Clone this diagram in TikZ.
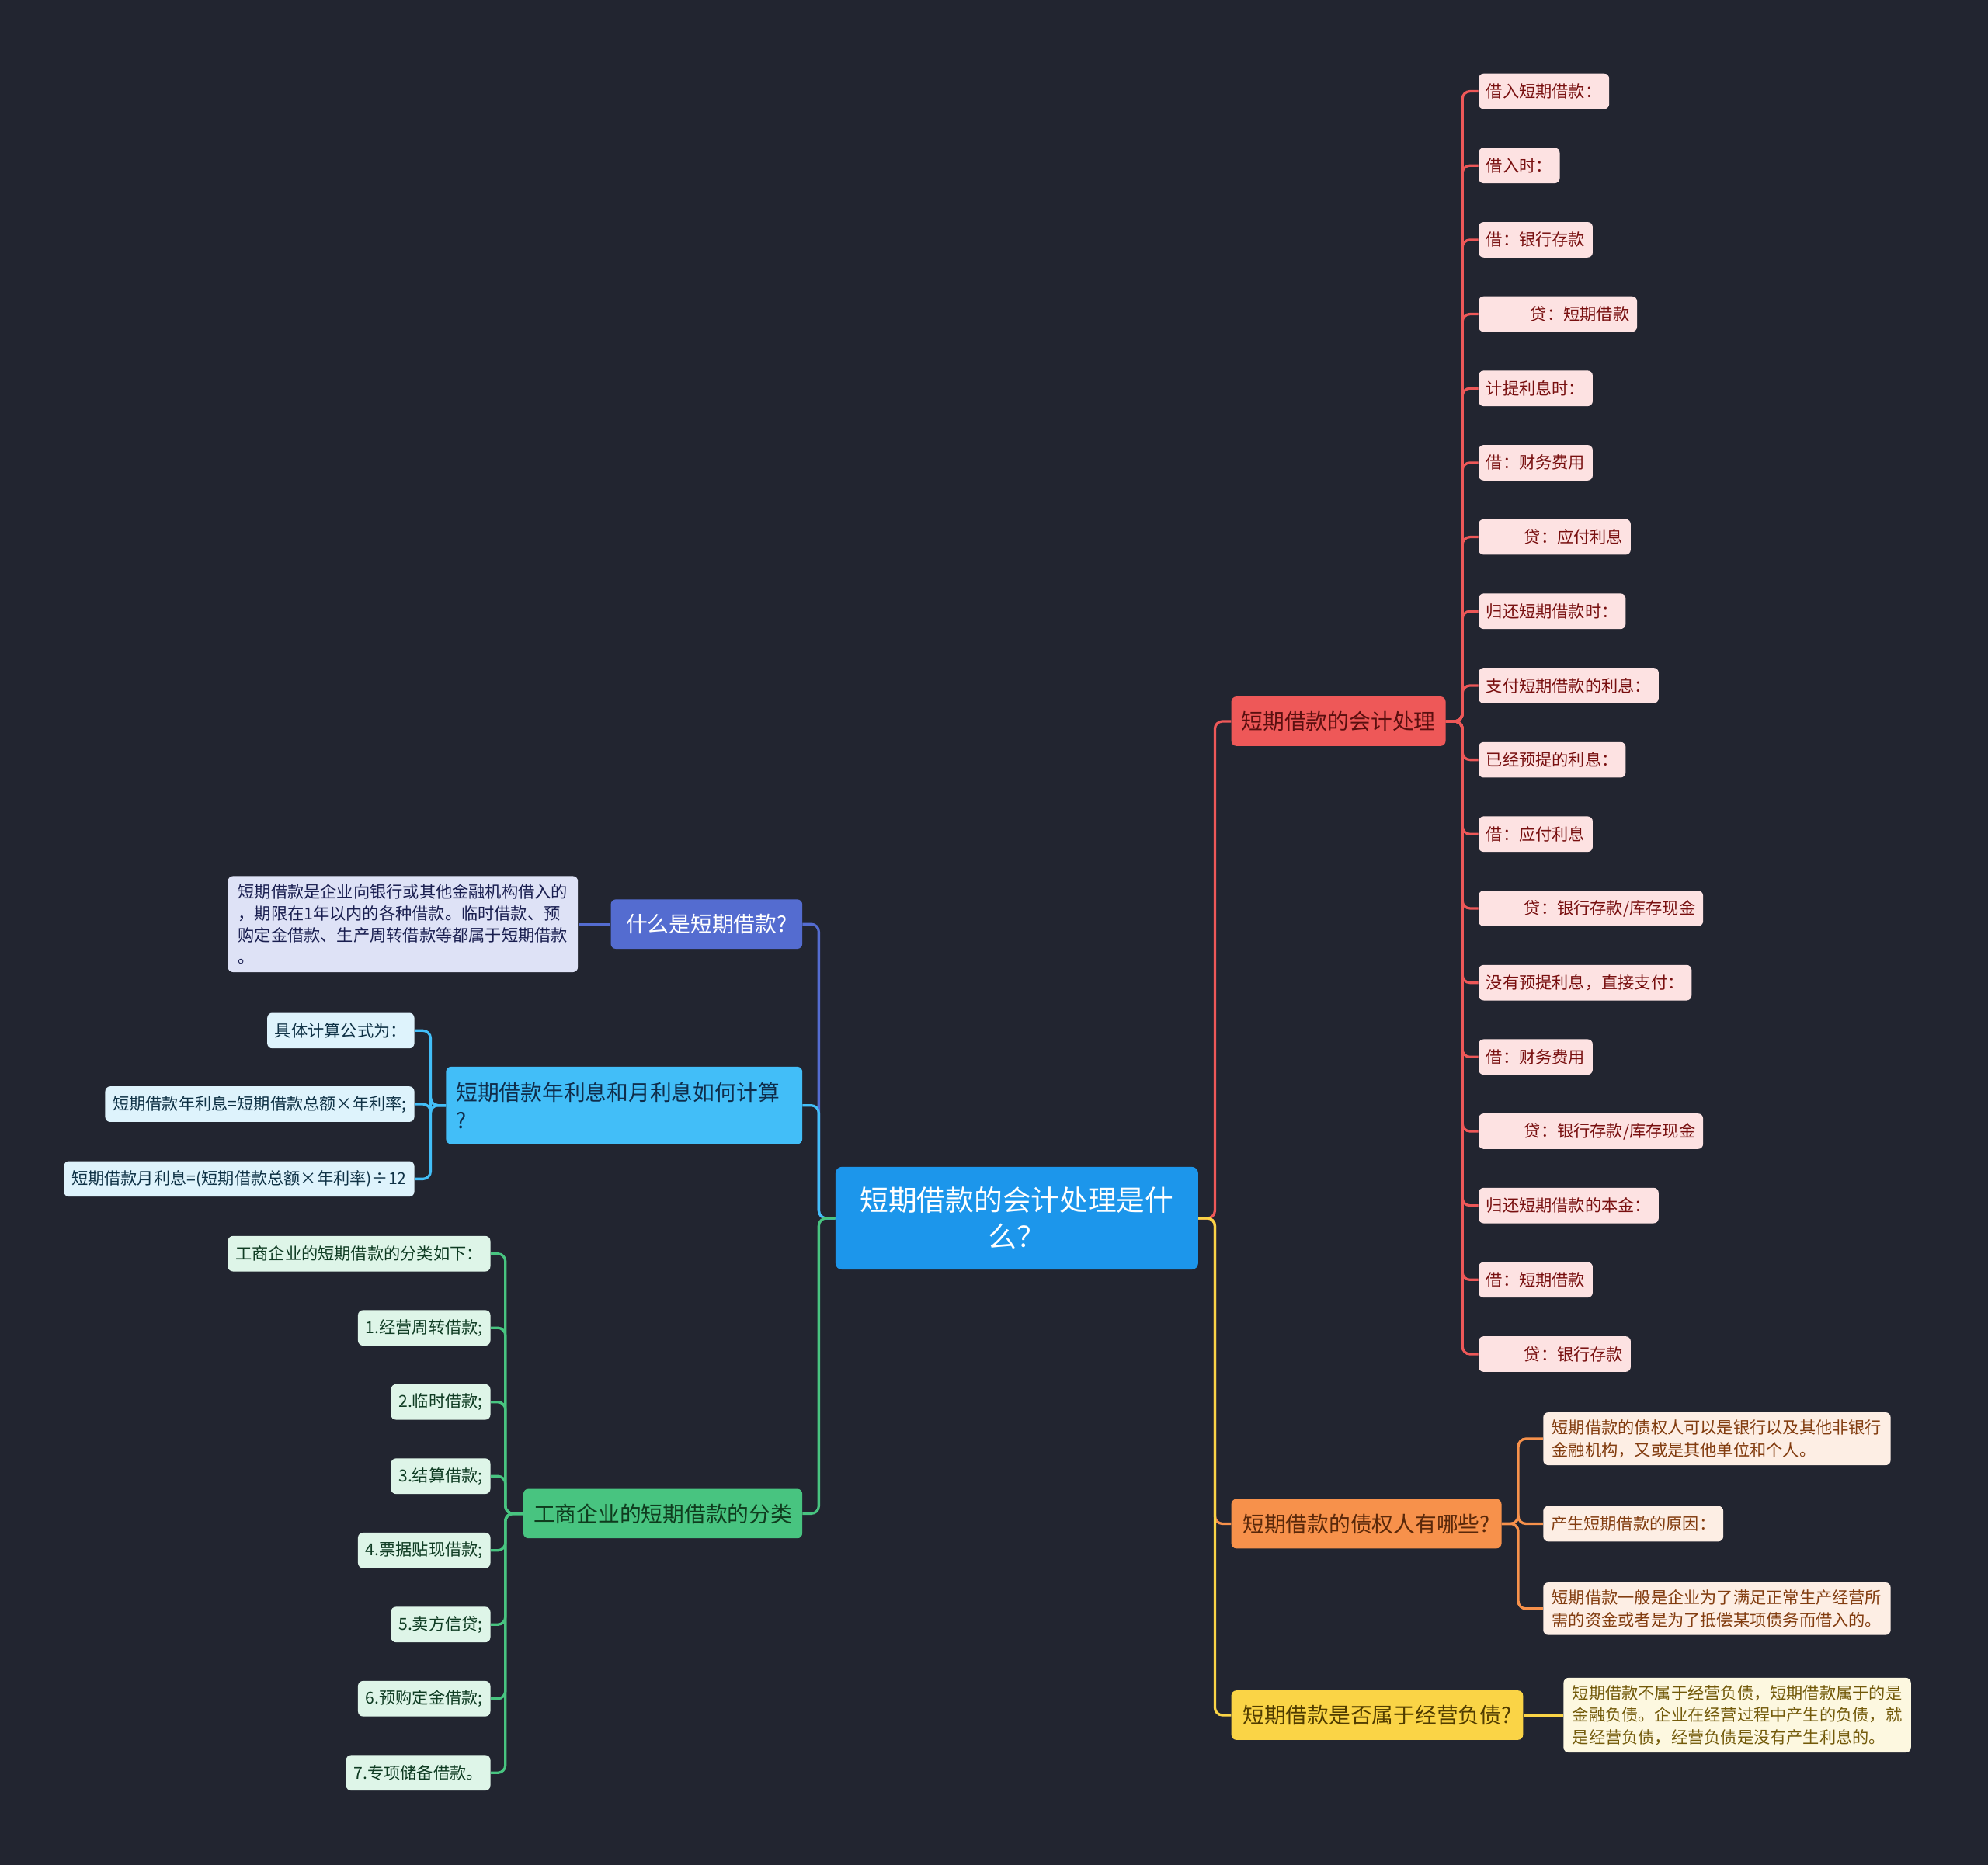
\documentclass[tikz,border=0pt]{standalone}
\usepackage{fontspec}
\setmainfont{Noto Sans CJK SC}

\definecolor{bg}{RGB}{34,37,48}
\definecolor{cRoot}{RGB}{28,150,235}
\definecolor{cBa}{RGB}{84,108,208}
\definecolor{cBaL}{RGB}{222,226,246}
\definecolor{cBaT}{RGB}{25,30,80}
\definecolor{cBb}{RGB}{66,190,248}
\definecolor{cBbD}{RGB}{15,45,75}
\definecolor{cBbL}{RGB}{222,243,252}
\definecolor{cBbT}{RGB}{15,50,70}
\definecolor{cBc}{RGB}{72,196,128}
\definecolor{cBcD}{RGB}{15,60,30}
\definecolor{cBcL}{RGB}{222,245,232}
\definecolor{cBcT}{RGB}{15,60,35}
\definecolor{cRa}{RGB}{238,88,88}
\definecolor{cRaD}{RGB}{90,15,15}
\definecolor{cRaL}{RGB}{253,226,226}
\definecolor{cRaT}{RGB}{120,15,15}
\definecolor{cRb}{RGB}{247,145,75}
\definecolor{cRbD}{RGB}{90,40,10}
\definecolor{cRbL}{RGB}{253,238,228}
\definecolor{cRbT}{RGB}{130,60,15}
\definecolor{cRc}{RGB}{250,212,70}
\definecolor{cRcD}{RGB}{80,60,0}
\definecolor{cRcL}{RGB}{253,248,224}
\definecolor{cRcT}{RGB}{115,90,10}

\begin{document}
\begin{tikzpicture}[x=1pt, y=-1pt,
  branch/.style={rounded corners=4pt, inner xsep=8pt, inner ysep=0pt, minimum height=39pt, font=\fontsize{17}{22}\selectfont},
  leaf/.style={rounded corners=4pt, inner xsep=6pt, inner ysep=0pt, minimum height=28pt, font=\fontsize{13}{17.3}\selectfont},
  note/.style={rounded corners=4pt, inner xsep=6pt, inner ysep=6pt, align=left, font=\fontsize{13}{17.3}\selectfont},
  link/.style={line width=2pt, rounded corners=6pt}]

\fill[bg] (0,0) rectangle (1568,1471);
\useasboundingbox (0,0) rectangle (1568,1471);

% centre
\node[fill=cRoot, text=white, rounded corners=5pt, minimum width=286pt, minimum height=81pt,
  align=center, font=\fontsize{22.5}{29}\selectfont] (root) at (802,961) {短期借款的会计处理是什\\么？};

% left side
\node[branch, fill=cBa, text=white, anchor=east, inner xsep=12pt] (ba) at (633,729) {什么是短期借款?};
\node[note, fill=cBaL, text=cBaT, anchor=east, inner xsep=8pt] (baa) at (456,729)
  {短期借款是企业向银行或其他金融机构借入的\\，期限在1年以内的各种借款。临时借款、预\\购定金借款、生产周转借款等都属于短期借款\\。};

\node[branch, fill=cBb, text=cBbD, anchor=east, align=left, text width=265pt, minimum height=61pt] (bb) at (633,872)
  {短期借款年利息和月利息如何计算\\?};
\node[leaf, fill=cBbL, text=cBbT, anchor=east] (bb1) at (327,813) {具体计算公式为：};
\node[leaf, fill=cBbL, text=cBbT, anchor=east] (bb2) at (327,871) {短期借款年利息=短期借款总额×年利率;};
\node[leaf, fill=cBbL, text=cBbT, anchor=east] (bb3) at (327,930) {短期借款月利息=(短期借款总额×年利率)÷12};

\node[branch, fill=cBc, text=cBcD, anchor=east] (bc) at (633,1194) {工商企业的短期借款的分类};
\foreach \t [count=\i] in {{工商企业的短期借款的分类如下：}, {1.经营周转借款;}, {2.临时借款;}, {3.结算借款;},
    {4.票据贴现借款;}, {5.卖方信贷;}, {6.预购定金借款;}, {7.专项储备借款。}}
  \node[leaf, fill=cBcL, text=cBcT, anchor=east] (bc\i) at (387,{989+(\i-1)*58.5}) {\t};

% right side
\node[branch, fill=cRa, text=cRaD, anchor=west] (ra) at (971,569) {短期借款的会计处理};
\foreach \t [count=\i] in {{借入短期借款：}, {借入时：}, {借：银行存款}, {\hspace*{35pt}贷：短期借款},
    {计提利息时：}, {借：财务费用}, {\hspace*{30pt}贷：应付利息}, {归还短期借款时：},
    {支付短期借款的利息：}, {已经预提的利息：}, {借：应付利息}, {\hspace*{30pt}贷：银行存款/库存现金},
    {没有预提利息，直接支付：}, {借：财务费用}, {\hspace*{30pt}贷：银行存款/库存现金}, {归还短期借款的本金：},
    {借：短期借款}, {\hspace*{30pt}贷：银行存款}}
  \node[leaf, fill=cRaL, text=cRaT, anchor=west] (ra\i) at (1166,{72+(\i-1)*58.6}) {\t};

\node[branch, fill=cRb, text=cRbD, anchor=west, inner xsep=9pt] (rb) at (971,1202) {短期借款的债权人有哪些?};
\node[note, fill=cRbL, text=cRbT, anchor=west, inner xsep=7pt] (rb1) at (1217,1135)
  {短期借款的债权人可以是银行以及其他非银行\\金融机构，又或是其他单位和个人。};
\node[leaf, fill=cRbL, text=cRbT, anchor=west] (rb2) at (1217,1202) {产生短期借款的原因：};
\node[note, fill=cRbL, text=cRbT, anchor=west, inner xsep=7pt] (rb3) at (1217,1269)
  {短期借款一般是企业为了满足正常生产经营所\\需的资金或者是为了抵偿某项债务而借入的。};

\node[branch, fill=cRc, text=cRcD, anchor=west, inner xsep=9pt] (rc) at (971,1353) {短期借款是否属于经营负债?};
\node[note, fill=cRcL, text=cRcT, anchor=west, inner xsep=7pt] (rc1) at (1233,1353)
  {短期借款不属于经营负债，短期借款属于的是\\金融负债。企业在经营过程中产生的负债，就\\是经营负债，经营负债是没有产生利息的。};

% connectors
\draw[link, cBa] (root.west) -- ++(-13,0) |- (ba.east);
\draw[link, cBb] (root.west) -- ++(-13,0) |- (bb.east);
\draw[link, cBc] (root.west) -- ++(-13,0) |- (bc.east);
\draw[link, cRa] (root.east) -- ++(13,0) |- (ra.west);
\draw[link, cRb] (root.east) -- ++(13,0) |- (rb.west);
\draw[link, cRc] (root.east) -- ++(13,0) |- (rc.west);

\draw[link, cBa] (ba.west) -- (baa.east);
\foreach \i in {1,2,3}
  \draw[link, cBb] (bb.west) -- ++(-12,0) |- (bb\i.east);
\foreach \i in {1,...,8}
  \draw[link, cBc] (bc.west) -- ++(-14,0) |- (bc\i.east);
\foreach \i in {1,...,18}
  \draw[link, cRa] (ra.east) -- ++(13,0) |- (ra\i.west);
\foreach \i in {1,2,3}
  \draw[link, cRb] (rb.east) -- ++(13,0) |- (rb\i.west);
\draw[link, cRc] (rc.east) -- (rc1.west);
\end{tikzpicture}
\end{document}
